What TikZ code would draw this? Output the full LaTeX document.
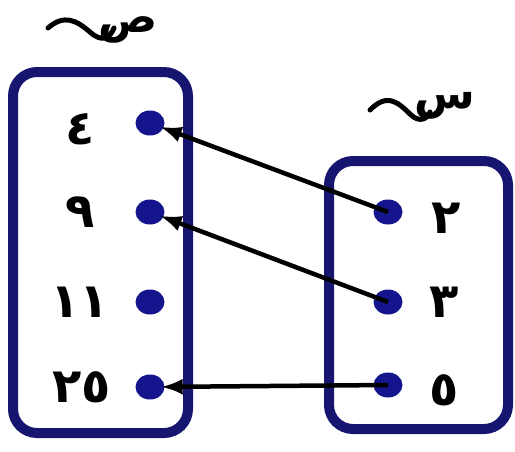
\documentclass[tikz,border=0pt]{standalone}
\usepackage{fontspec}
\usetikzlibrary{arrows.meta,shapes.geometric}
\TeXXeTstate=1
\newfontfamily\arabicfont[Script=Arabic]{DejaVu Sans}
\definecolor{navy}{RGB}{22,22,112}
\definecolor{dotblue}{RGB}{20,20,140}
\tikzset{
  setbox/.style={draw=navy, line width=10pt, rounded corners=24pt},
  elem/.style={ellipse, fill=dotblue, minimum width=29pt, minimum height=25pt, inner sep=0pt},
  num/.style={font=\arabicfont\bfseries\fontsize{48}{48}\selectfont, inner sep=0pt},
  setname/.style={font=\arabicfont\bfseries\fontsize{44}{44}\selectfont, inner sep=0pt},
  maparrow/.style={draw=black, line width=4.5pt, -{Latex[length=22pt,width=16pt]}, shorten >=-4pt},
  wave/.style={draw=black, line width=5pt, line cap=round}
}
\begin{document}
\begin{tikzpicture}[x=1pt,y=-1pt]
\useasboundingbox (0,0) rectangle (515,451);
% boxes
\draw[setbox] (13,72) rectangle (188,433);
\draw[setbox] (329,161) rectangle (508,429);
% set names
\node[setname] (S) at (128,30) {\beginR ص\endR};
\draw[wave] (48,28) .. controls (64,14) and (76,20) .. (90,32) .. controls (102,43) and (110,38) .. (114,28);
\node[setname] (X) at (445,106) {\beginR س\endR};
\draw[wave] (370,110) .. controls (386,94) and (396,100) .. (410,114) .. controls (420,124) and (428,118) .. (430,112);
% left elements
\node[elem] (y4) at (150,123) {};
\node[elem] (y9) at (150,212) {};
\node[elem] (y11) at (150,302) {};
\node[elem] (y25) at (150,387) {};
\node[num] (n4) at (80,129) {٤};
\node[num] (n9) at (80,212) {٩};
\node[num] (n11) at (80,302) {١١};
\node[num] (n25) at (82,387) {٢٥};
% right elements
\node[elem] (x2) at (388,212) {};
\node[elem] (x3) at (388,302) {};
\node[elem] (x5) at (388,385) {};
\node[num] (m2) at (446,218) {٢};
\node[num] (m3) at (444,302) {٣};
\node[num] (m5) at (444,390) {٥};
% arrows
\draw[maparrow] (x2.center) -- (y4);
\draw[maparrow] (x3.center) -- (y9);
\draw[maparrow] (x5.center) -- (y25);
\end{tikzpicture}
\end{document}
